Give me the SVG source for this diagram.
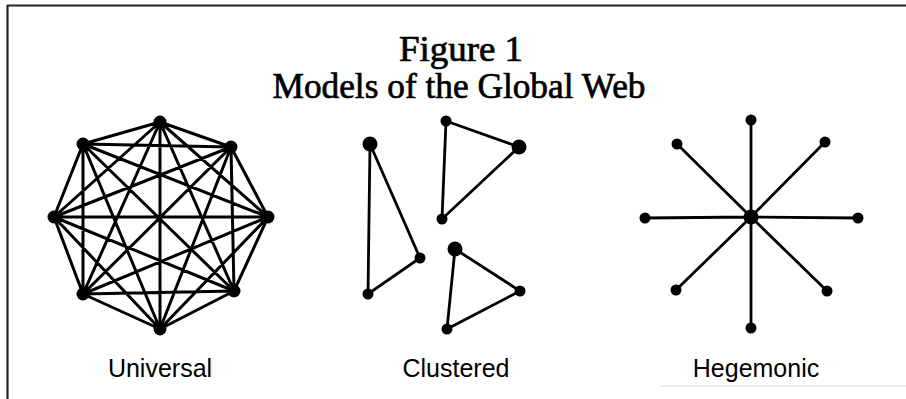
<svg xmlns="http://www.w3.org/2000/svg" width="906" height="399" viewBox="0 0 906 399">
<style>
.e{stroke:#000;stroke-width:3;stroke-linecap:round;fill:none}
.n{fill:#000}
.t{font-family:"Liberation Serif",serif;fill:#000;stroke:#000;stroke-width:0.7;text-anchor:middle}
.l{font-family:"Liberation Sans",sans-serif;font-size:25px;fill:#000;text-anchor:middle}
</style>
<rect width="906" height="399" fill="#fff"/>
<g id="frame">
<line x1="7" y1="5.5" x2="906" y2="5.5" stroke="#222" stroke-width="2.2"/>
<line x1="7.5" y1="5" x2="7.5" y2="399" stroke="#222" stroke-width="2.2"/>
<line x1="660" y1="386" x2="906" y2="386" stroke="#ddd" stroke-width="1"/>
</g>
<g id="title">
<text class="t" x="461" y="61" font-size="35" textLength="124" lengthAdjust="spacingAndGlyphs">Figure 1</text>
<text class="t" x="459" y="98" font-size="36" textLength="373" lengthAdjust="spacingAndGlyphs">Models of the Global Web</text>
</g>
<g id="connectors">
<g id="universal-edges" class="e">
<path d="M160,122L83,144M160,122L231,147M160,122L54,217M160,122L268,217M160,122L83,294M160,122L234,291M160,122L160,329
M83,144L231,147M83,144L54,217M83,144L268,217M83,144L83,294M83,144L234,291M83,144L160,329
M231,147L54,217M231,147L268,217M231,147L83,294M231,147L234,291M231,147L160,329
M54,217L268,217M54,217L83,294M54,217L234,291M54,217L160,329
M268,217L83,294M268,217L234,291M268,217L160,329
M83,294L234,291M83,294L160,329
M234,291L160,329"/>
</g>
<g id="clustered-edges" class="e" style="stroke-width:2.8">
<path d="M370,144L368,294L420,258Z"/>
<path d="M446,121L519,147L442,219Z"/>
<path d="M455,249L520,291L447,329Z"/>
</g>
<g id="hegemonic-edges" class="e" style="stroke-width:2.8">
<path d="M751,217L751,120M751,217L677,144M751,217L825,142M751,217L645,218M751,217L858,218M751,217L676,290M751,217L827,291M751,217L751,328"/>
</g>
</g>
<g id="universal">
<circle class="n" cx="160" cy="122" r="6.5"/>
<circle class="n" cx="83" cy="144" r="6.5"/>
<circle class="n" cx="231" cy="147" r="6.5"/>
<circle class="n" cx="54" cy="217" r="6.5"/>
<circle class="n" cx="268" cy="217" r="6.5"/>
<circle class="n" cx="83" cy="294" r="6.5"/>
<circle class="n" cx="234" cy="291" r="6.5"/>
<circle class="n" cx="160" cy="329" r="6.5"/>
<text class="l" x="160" y="377">Universal</text>
</g>
<g id="clustered">
<circle class="n" cx="370" cy="144" r="7.5"/>
<circle class="n" cx="368" cy="294" r="5.5"/>
<circle class="n" cx="420" cy="258" r="5.5"/>
<circle class="n" cx="446" cy="121" r="5.5"/>
<circle class="n" cx="519" cy="147" r="7.5"/>
<circle class="n" cx="442" cy="219" r="5.5"/>
<circle class="n" cx="455" cy="249" r="7.5"/>
<circle class="n" cx="520" cy="291" r="5.5"/>
<circle class="n" cx="447" cy="329" r="5.5"/>
<text class="l" x="456" y="377">Clustered</text>
</g>
<g id="hegemonic">
<circle class="n" cx="751" cy="217" r="7.5"/>
<circle class="n" cx="751" cy="120" r="5.5"/>
<circle class="n" cx="677" cy="144" r="5.5"/>
<circle class="n" cx="825" cy="142" r="5.5"/>
<circle class="n" cx="645" cy="218" r="5.5"/>
<circle class="n" cx="858" cy="218" r="5.5"/>
<circle class="n" cx="676" cy="290" r="5.5"/>
<circle class="n" cx="827" cy="291" r="5.5"/>
<circle class="n" cx="751" cy="328" r="5.5"/>
<text class="l" x="756" y="377">Hegemonic</text>
</g>
</svg>
